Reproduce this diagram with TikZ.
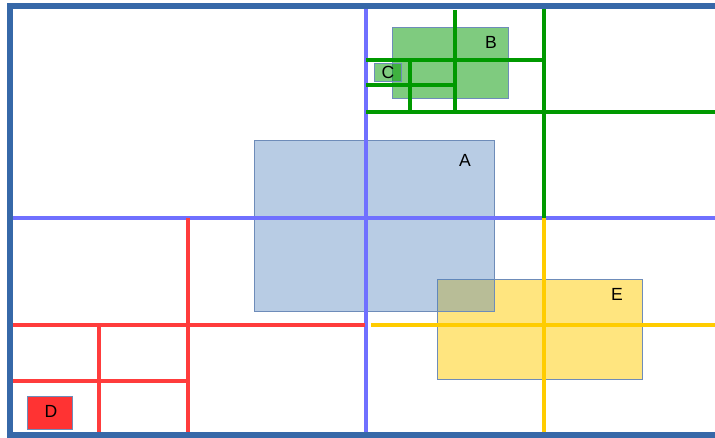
\documentclass[tikz,border=0pt]{standalone}
\usepackage{fontspec}
\setmainfont{Liberation Sans}
\usepackage{xcolor}
\definecolor{framecol}{RGB}{54,104,168}
\definecolor{splitblue}{RGB}{112,112,255}
\definecolor{splitgreen}{RGB}{0,153,0}
\definecolor{splitred}{RGB}{255,60,60}
\definecolor{splityellow}{RGB}{255,204,0}
\definecolor{areablue}{RGB}{79,129,189}
\definecolor{edgecol}{RGB}{110,140,185}

\begin{document}
\begin{tikzpicture}[
    x=0.03cm, y=-0.03cm,
    font=\fontsize{15}{17}\selectfont,
    area/.style={draw=edgecol, line width=0.6pt},
    split/.style={line width=3pt},
    tag/.style={inner sep=0pt, anchor=center}]
    \useasboundingbox (0,0) rectangle (715,437);
    % objects
    \fill[white] (0,0) rectangle (715,437);
    \draw[area, fill=splityellow, fill opacity=0.5] (437,279) rectangle (642,379);
    \draw[area, fill=areablue, fill opacity=0.4] (254,140) rectangle (494,311);
    \draw[area, fill=splitgreen, fill opacity=0.5] (392,27) rectangle (508,98);
    \draw[area, fill=splitgreen, fill opacity=0.5] (374,63) rectangle (401,81);
    \draw[area, fill=red!80] (27,396) rectangle (72,429);
    % level 1
    \draw[split, splitblue] (366,6) -- (366,435);
    \draw[split, splitblue] (10,218) -- (715,218);
    % green quadrant
    \draw[split, splitgreen] (544,6) -- (544,218);
    \draw[split, splitgreen] (366,112) -- (715,112);
    \draw[split, splitgreen] (455,10) -- (455,112);
    \draw[split, splitgreen] (366,60) -- (544,60);
    \draw[split, splitgreen] (410,60) -- (410,112);
    \draw[split, splitgreen] (366,85) -- (455,85);
    % red quadrant
    \draw[split, splitred] (10,325) -- (365,325);
    \draw[split, splitred] (188,218) -- (188,435);
    \draw[split, splitred] (99,323) -- (99,435);
    \draw[split, splitred] (8,381) -- (190,381);
    % yellow quadrant
    \draw[split, splityellow] (371,325) -- (715,325);
    \draw[split, splityellow] (544,218) -- (544,435);
    % frame
    \draw[framecol, line width=4.5pt] (715,6) -- (10,6) -- (10,435) -- (715,435);
    % labels
    \node[tag] (labA) at (465,160) {A};
    \node[tag] (labB) at (491,42) {B};
    \node[tag] (labC) at (388,72) {C};
    \node[tag] (labD) at (51,411) {D};
    \node[tag] (labE) at (617,294) {E};
\end{tikzpicture}
\end{document}
